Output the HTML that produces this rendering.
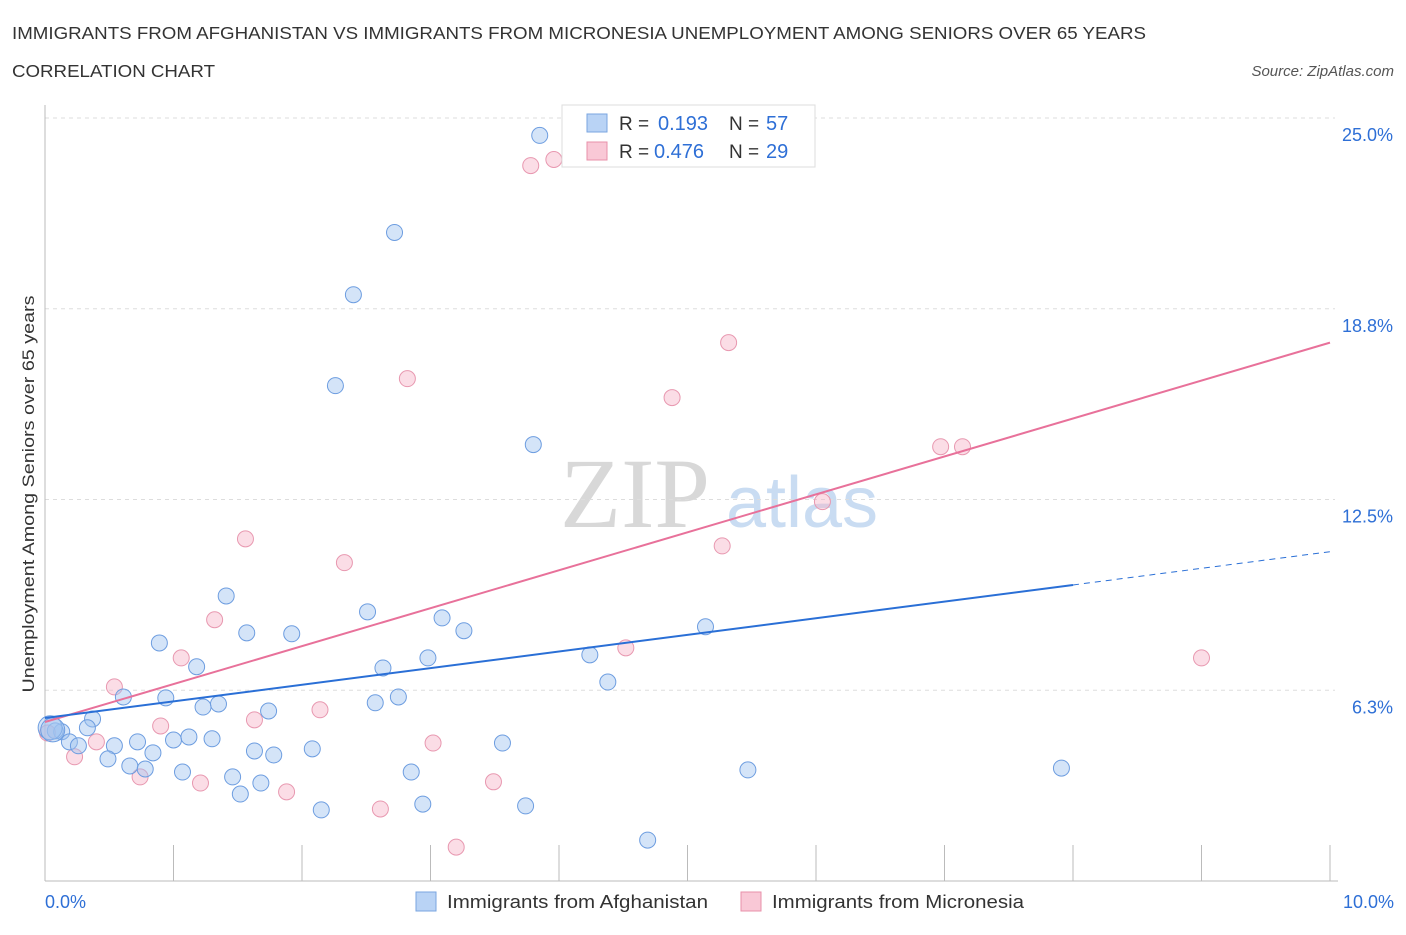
<!DOCTYPE html>
<html><head><meta charset="utf-8"><style>
body{margin:0;background:#fff;font-family:"Liberation Sans",sans-serif;}
</style></head><body>
<svg id="chart" width="1406" height="930" viewBox="0 0 1406 930" xmlns="http://www.w3.org/2000/svg" font-family="Liberation Sans, sans-serif">
<text x="12" y="39" font-size="17.5" fill="#333" textLength="1134" lengthAdjust="spacingAndGlyphs">IMMIGRANTS FROM AFGHANISTAN VS IMMIGRANTS FROM MICRONESIA UNEMPLOYMENT AMONG SENIORS OVER 65 YEARS</text>
<text x="12" y="77" font-size="17.5" fill="#333" textLength="203" lengthAdjust="spacingAndGlyphs">CORRELATION CHART</text>
<text x="1394" y="76" font-size="15" fill="#555" font-style="italic" text-anchor="end">Source: ZipAtlas.com</text>
<g>
<text x="635" y="527" font-size="100" fill="#d8d8d8" style="font-family:'Liberation Serif',serif" text-anchor="middle">ZIP</text>
<text x="802" y="527" font-size="72" fill="#c9dcf2" text-anchor="middle">atlas</text>
</g>
<g id="grid"></g>
<g id="axes"></g>
<g id="marks"></g>
<g id="lines"></g>
<text transform="translate(34,494) rotate(-90)" font-size="17" fill="#333" text-anchor="middle" textLength="397" lengthAdjust="spacingAndGlyphs">Unemployment Among Seniors over 65 years</text>
<g>
<rect x="562" y="105" width="253" height="62" fill="#fff" stroke="#ddd"/>
<rect x="587" y="114" width="20" height="18" fill="#b9d3f5" stroke="#7aa6e0"/>
<text x="619" y="130" font-size="19" fill="#333">R =</text><text x="658" y="130" font-size="20" fill="#2e6fd6">0.193</text>
<text x="729" y="130" font-size="19" fill="#333">N =</text><text x="766" y="130" font-size="20" fill="#2e6fd6">57</text>
<rect x="587" y="142" width="20" height="18" fill="#f9c8d6" stroke="#e890aa"/>
<text x="619" y="158" font-size="19" fill="#333">R =</text><text x="654" y="158" font-size="20" fill="#2e6fd6">0.476</text>
<text x="729" y="158" font-size="19" fill="#333">N =</text><text x="766" y="158" font-size="20" fill="#2e6fd6">29</text>
</g>
<g>
<rect x="416" y="892" width="20" height="19" fill="#b9d3f5" stroke="#7aa6e0"/>
<text x="447" y="908" font-size="18" fill="#333" textLength="261" lengthAdjust="spacingAndGlyphs">Immigrants from Afghanistan</text>
<rect x="741" y="892" width="20" height="19" fill="#f9c8d6" stroke="#e890aa"/>
<text x="772" y="908" font-size="18" fill="#333" textLength="252" lengthAdjust="spacingAndGlyphs">Immigrants from Micronesia</text>
</g>
</svg>
<script>
const yTicks=[6.25,12.5,18.75,25];
const yTickLabels=["6.3%","12.5%","18.8%","25.0%"];
const xTickLabels=["0.0%","10.0%"];
const afgX=[3.85,2.72,2.40,2.26,3.80,1.41,2.51,3.09,0.89,1.57,1.92,3.26,1.18,2.63,2.98,4.24,5.14,0.61,0.94,1.23,1.35,1.74,2.57,2.75,4.38,0.37,0.33,0.13,0.08,0.19,0.26,0.54,0.72,0.84,0.49,0.66,0.78,1.00,1.12,1.30,1.63,1.78,2.08,1.07,1.46,1.52,1.68,2.15,2.85,2.94,3.56,3.74,4.69,5.47,7.91,0.04,0.06];
const afgY=[24.43,21.25,19.21,16.23,14.30,9.34,8.82,8.62,7.80,8.13,8.10,8.20,7.02,6.98,7.31,7.41,8.33,6.03,6.00,5.70,5.80,5.57,5.84,6.03,6.52,5.31,5.02,4.89,4.92,4.56,4.43,4.43,4.56,4.20,4.00,3.77,3.67,4.62,4.72,4.66,4.26,4.13,4.33,3.57,3.41,2.85,3.21,2.33,3.57,2.52,4.52,2.46,1.34,3.64,3.70,5.02,4.95];
const micX=[3.78,3.96,2.82,5.32,4.88,6.97,7.14,6.05,5.27,1.56,2.33,1.32,1.06,4.52,0.54,9.00,0.90,1.63,2.14,0.40,0.23,0.74,1.21,1.88,2.61,3.02,3.49,3.20,0.02];
const micY=[23.44,23.64,16.46,17.64,15.84,14.23,14.23,12.43,10.98,11.21,10.43,8.56,7.31,7.64,6.36,7.31,5.08,5.28,5.61,4.56,4.07,3.41,3.21,2.92,2.36,4.52,3.25,1.11,4.85];
const afgTrend=[5.34,10.79];
const micTrend=[5.21,17.64];
const afgSolidEnd=8.0;
const NS="http://www.w3.org/2000/svg";
const X0=45,X1=1330,Y0=881,YTOP=118;
function sx(v){return X0+(X1-X0)*v/10;}
function sy(v){return Y0-(Y0-YTOP)*v/25;}
function mk(tag,attrs,parent){const e=document.createElementNS(NS,tag);for(const k in attrs)e.setAttribute(k,attrs[k]);document.getElementById(parent).appendChild(e);return e;}
yTicks.forEach((t,i)=>{
 const g=mk('line',{x1:X0,x2:X1+5,y1:sy(t),y2:sy(t),stroke:'#ddd','stroke-dasharray':'4,4'},'grid');
 
 
 const l=mk('text',{x:1393,y:sy(t)+23,'font-size':18,fill:'#2e6fd6','text-anchor':'end'},'grid');
 l.textContent=yTickLabels[i];
 
 
});
const ax=mk('line',{x1:X0,x2:X1+8,y1:Y0,y2:Y0,stroke:'#bbb'},'axes');


const ay=mk('line',{x1:X0,x2:X0,y1:105,y2:Y0,stroke:'#bbb'},'axes');


for(let i=0;i<=10;i++){
 const t=mk('line',{x1:sx(i),x2:sx(i),y1:Y0-36,y2:Y0,stroke:'#bbb'},'axes');
 
 
}
[[0,'start',45],[10,'end',1394]].forEach((d,i)=>{
 const l=mk('text',{x:d[2],y:908,'font-size':18,fill:'#2e6fd6','text-anchor':d[1]},'axes');
 l.textContent=xTickLabels[i];
 
 
});
micX.forEach((v,i)=>{
 const c=mk('circle',{cx:sx(v),cy:sy(micY[i]),r:8,fill:'rgba(246,180,200,0.45)',stroke:'#e898b0','stroke-width':1},'marks');
 
 
});
afgX.forEach((v,i)=>{
 const c=mk('circle',{cx:sx(v),cy:sy(afgY[i]),r:(i>=55?12:8),fill:'rgba(160,195,240,0.45)',stroke:'#6d9de0','stroke-width':1},'marks');
 
 
});
function ty(tr,x){return tr[0]+(tr[1]-tr[0])*x/10;}
const l1=mk('line',{x1:sx(0),y1:sy(ty(micTrend,0)),x2:sx(10),y2:sy(ty(micTrend,10)),stroke:'#e8719a','stroke-width':2},'lines');


const l2=mk('line',{x1:sx(0),y1:sy(ty(afgTrend,0)),x2:sx(afgSolidEnd),y2:sy(ty(afgTrend,afgSolidEnd)),stroke:'#2a6fd6','stroke-width':2},'lines');


const l3=mk('line',{x1:sx(afgSolidEnd),y1:sy(ty(afgTrend,afgSolidEnd)),x2:sx(10),y2:sy(ty(afgTrend,10)),stroke:'#2a6fd6','stroke-width':1,'stroke-dasharray':'6,5'},'lines');


</script>
</body></html>
